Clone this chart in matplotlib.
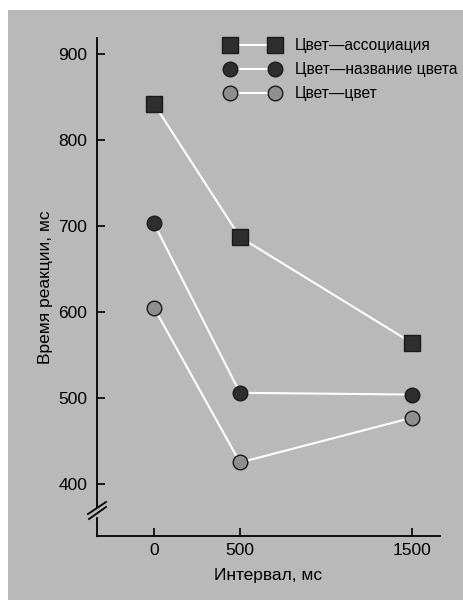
import matplotlib
matplotlib.use("Agg")
import matplotlib.pyplot as plt
from matplotlib.lines import Line2D
from matplotlib.patches import Rectangle

plt.rcParams["font.family"] = ["Liberation Sans", "DejaVu Sans"]

intervals = [0, 500, 1500]
labels = ["Цвет—ассоциация", "Цвет—название цвета", "Цвет—цвет"]
assoc = [842, 687, 564]
color_name = [703, 506, 504]
color_color = [605, 425, 477]

series = [assoc, color_name, color_color]
markers = ["s", "o", "o"]
faces = ["#2e2e2e", "#2e2e2e", "#8e8e8e"]
sizes = [11, 10.5, 10.5]

BG = "#b9b9b9"

fig = plt.figure(figsize=(4.64, 6.0), dpi=100, facecolor="white")
fig.patches.append(Rectangle((8 / 464, 0), 1, 1 - 10 / 600, transform=fig.transFigure,
                             facecolor=BG, edgecolor="none", zorder=-5))

ax = fig.add_axes([97 / 464, 1 - 536 / 600, 343 / 464, 498 / 600])
ax.set_facecolor("none")

for vals, m, fc, ms, lab in zip(series, markers, faces, sizes, labels):
    ax.plot(intervals, vals, color="white", lw=1.5, marker=m, markersize=ms,
            markerfacecolor=fc, markeredgecolor="#1a1a1a", markeredgewidth=1.0,
            label=lab, zorder=3)

ax.set_xlim(-331, 1663)
ax.set_ylim(339.5, 918.6)
ax.set_xticks(intervals)
ax.set_yticks([400, 500, 600, 700, 800, 900])
ax.tick_params(axis="both", direction="in", length=6, width=1.2, labelsize=12.5, colors="black")
ax.tick_params(axis="y", pad=7)
ax.tick_params(axis="x", pad=5)

for s in ["top", "right"]:
    ax.spines[s].set_visible(False)
ax.spines["left"].set_linewidth(1.3)
ax.spines["bottom"].set_linewidth(1.3)
ax.spines["left"].set_bounds(373, 918.6)

# y-axis break
def fx(px):
    return px / 464

def fy(py):
    return 1 - py / 600

fig.add_artist(Line2D([fx(97), fx(97)], [fy(518), fy(536)], color="black", lw=1.3))
fig.add_artist(Line2D([fx(88), fx(106)], [fy(514), fy(502)], color="black", lw=1.3))
fig.add_artist(Line2D([fx(89), fx(106)], [fy(519), fy(507)], color="black", lw=1.3))

ax.set_xlabel("Интервал, мс", fontsize=12.5, labelpad=7)
ax.set_ylabel("Время реакции, мс", fontsize=12.5, labelpad=4)

leg = ax.legend(loc="upper left", bbox_to_anchor=(0.355, 1.012), frameon=False,
                numpoints=2, handlelength=3.5, handletextpad=1.0,
                labelspacing=0.58, fontsize=11.2, borderaxespad=0.0)

fig.savefig("out.png", dpi=100, facecolor=fig.get_facecolor())
